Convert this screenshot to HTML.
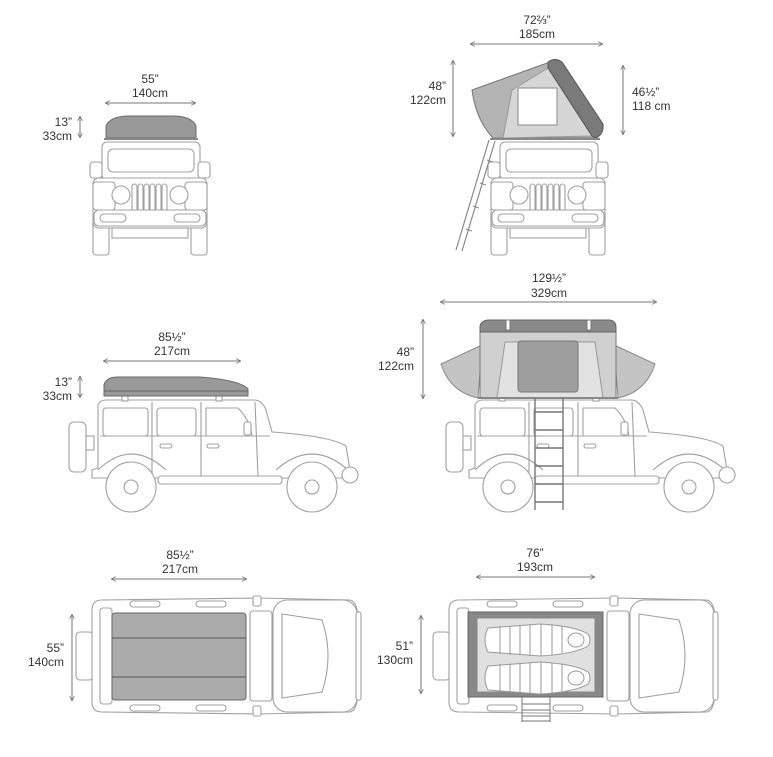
<!DOCTYPE html>
<html><head><meta charset="utf-8"><style>
html,body{margin:0;padding:0;background:#fff}
svg{display:block}
text{font-family:"Liberation Sans",sans-serif;font-size:12px;fill:#333}
</style></head><body>
<svg width="773" height="757" viewBox="0 0 773 757" xmlns="http://www.w3.org/2000/svg">
<defs>
<marker id="ar" viewBox="0 0 6 6" refX="5" refY="3" markerWidth="5" markerHeight="5" orient="auto-start-reverse"><path d="M0,0 L6,3 L0,6" fill="none" stroke="#777" stroke-width="1"/></marker>
<g id="front" fill="#fff" stroke="#a0a0a0" stroke-width="1.1">
 <rect x="12" y="2" width="98" height="38" rx="5"/>
 <rect x="18" y="9" width="86" height="23" rx="5"/>
 <rect x="0" y="22" width="12" height="16" rx="3"/>
 <rect x="108" y="22" width="12" height="16" rx="3"/>
 <rect x="3" y="80" width="16" height="35" rx="3"/>
 <rect x="101" y="80" width="16" height="35" rx="3"/>
 <rect x="3" y="38" width="114" height="50" rx="6"/>
 <rect x="3" y="42" width="22" height="28" rx="3"/>
 <rect x="95" y="42" width="22" height="28" rx="3"/>
 <rect x="42" y="44" width="5" height="28" rx="2.5"/><rect x="48" y="44" width="5" height="28" rx="2.5"/><rect x="54" y="44" width="5" height="28" rx="2.5"/><rect x="60" y="44" width="5" height="28" rx="2.5"/><rect x="66" y="44" width="5" height="28" rx="2.5"/><rect x="72" y="44" width="5" height="28" rx="2.5"/>
 <circle cx="31" cy="55" r="9"/><circle cx="89" cy="55" r="9"/>
 <rect x="4" y="70" width="112" height="16" rx="5"/>
 <rect x="10" y="74" width="26" height="8" rx="4"/><rect x="84" y="74" width="26" height="8" rx="4"/>
 <rect x="22" y="88" width="76" height="10"/>
</g>
<g id="side" fill="#fff" stroke="#a0a0a0" stroke-width="1.1">
 <rect x="69" y="422" width="17" height="50" rx="5"/>
 <rect x="86" y="436" width="8" height="14"/>
 <path d="M92,478 L92,470 L98,468 L98,405 Q100,400 106,400 L254,400 Q262,400 266,410 L272,432 Q330,436 346,446 L350,470 L346,478 Z"/>
 <path d="M98,470 Q131,438 166,470 M276,470 Q312,438 348,470" fill="none"/>
 <rect x="103" y="408" width="45" height="28" rx="3"/>
 <rect x="157" y="408" width="39" height="28" rx="3"/>
 <path d="M206,408 L238,408 Q250,420 252,436 L206,436 Z"/>
 <path d="M152,402 L152,474 M201,402 L201,476 M255,402 L258,476 M100,436 L270,436" fill="none"/>
 <rect x="160" y="444" width="12" height="4" rx="2"/><rect x="207" y="444" width="12" height="4" rx="2"/>
 <rect x="244" y="422" width="7" height="13" rx="2"/>
 <rect x="158" y="476" width="124" height="8" rx="3"/>
 <circle cx="350" cy="475" r="8"/>
 <rect x="122" y="394" width="6" height="7"/><rect x="216" y="394" width="6" height="7"/>
 <circle cx="131" cy="487" r="25"/><circle cx="131" cy="487" r="7"/>
 <circle cx="312" cy="487" r="25"/><circle cx="312" cy="487" r="7"/>
</g>
<g id="top" fill="#fff" stroke="#a0a0a0" stroke-width="1.1">
 <rect x="76" y="632" width="17" height="48" rx="4"/>
 <path d="M92,610 Q92,600 102,600 L260,598 L350,600 Q358,602 358,620 L358,690 Q358,710 350,712 L260,714 L102,712 Q92,712 92,702 Z"/>
 <rect x="273" y="600" width="84" height="112" rx="14"/>
 <path d="M282,614 L322,620 Q334,656 322,692 L282,698 Z" fill="none"/>
 <rect x="250" y="611" width="22" height="90" rx="3"/>
 <rect x="100" y="608" width="12" height="96" rx="3"/>
 <rect x="130" y="601" width="30" height="6" rx="3"/><rect x="196" y="601" width="30" height="6" rx="3"/>
 <rect x="130" y="705" width="30" height="6" rx="3"/><rect x="196" y="705" width="30" height="6" rx="3"/>
 <rect x="253" y="596" width="8" height="10" rx="2"/><rect x="253" y="706" width="8" height="10" rx="2"/>
 <rect x="356" y="612" width="5" height="88" rx="2"/>
</g>
</defs>

<use href="#front" x="90" y="140"/>
<path d="M106,138 L106,126 Q110,116 130,116 L172,116 Q192,116 196,126 L196,138 Z" fill="#999" stroke="#6a6a6a"/>
<line x1="104" y1="139" x2="198" y2="139" stroke="#888" stroke-width="2"/>

<use href="#front" x="488" y="140"/>
<path d="M472,90 L550,62 L600,128 L595,138 L493,138 Q476,120 472,90 Z" fill="#b4b4b4" stroke="#777"/>
<path d="M503,138 L512,90 L548,68 L592,136 Z" fill="#d6d6d6" stroke="#999"/>
<path d="M548,62 Q555,57 562,62 L603,124 Q604,134 596,138 L592,136 L548,68 Z" fill="#7a7a7a" stroke="#555"/>
<rect x="518" y="88" width="39" height="37" fill="#fff" stroke="#888"/>
<line x1="490" y1="139" x2="600" y2="139" stroke="#888" stroke-width="2"/>
<path d="M489,140 L456,250 M495,141 L462,251" stroke="#888" stroke-width="1.2" fill="none"/>
<path d="M487,160 L493,162 M480,183 L486,185 M473,206 L479,208 M466,229 L472,231" stroke="#888"/>

<use href="#side" x="0" y="0"/>
<path d="M104,396 L104,385 Q106,377 118,377 L200,377 Q240,380 248,389 L248,396 Z" fill="#999" stroke="#6a6a6a"/>
<line x1="104" y1="391" x2="248" y2="391" stroke="#666"/>

<use href="#side" x="377" y="0"/>
<path d="M482,345 L441,364 Q450,392 478,398 Z" fill="#c4c4c4" stroke="#888"/>
<path d="M614,345 L655,364 Q646,392 618,398 Z" fill="#c4c4c4" stroke="#888"/>
<path d="M480,398 L480,328 Q480,320 490,320 L608,320 Q616,320 616,328 L616,398 Z" fill="#d0d0d0" stroke="#777"/>
<path d="M480,328 Q480,320 490,320 L608,320 Q616,320 616,328 L616,332 L480,332 Z" fill="#8a8a8a" stroke="#666"/>
<path d="M497,398 L505,342 L595,342 L603,398 Z" fill="#e2e2e2" stroke="#999"/>
<rect x="518" y="341" width="60" height="51" rx="3" fill="#9e9e9e" stroke="#777"/>
<rect x="506" y="320" width="4" height="10" fill="#fff" stroke="#777"/><rect x="587" y="320" width="4" height="10" fill="#fff" stroke="#777"/>
<line x1="478" y1="398" x2="618" y2="398" stroke="#888" stroke-width="2"/>
<g stroke="#777" stroke-width="1.4" fill="none">
<path d="M535,398 L535,510 M563,398 L563,510"/>
<path d="M535,412 L563,412 M535,430 L563,430 M535,448 L563,448 M535,466 L563,466 M535,484 L563,484 M535,502 L563,502"/>
</g>

<use href="#top" x="0" y="0"/>
<rect x="112" y="613" width="134" height="87" rx="3" fill="#ababab" stroke="#666"/>
<path d="M112,638 L246,638 M112,677 L246,677" stroke="#555"/>

<use href="#top" x="357" y="0"/>
<rect x="468" y="612" width="135" height="85" fill="#888" stroke="#666"/>
<rect x="477" y="618" width="118" height="74" fill="#e0e0e0" stroke="#888"/>
<g fill="#fff" stroke="#999">
<path d="M488,628 L540,624 Q575,626 588,634 Q592,640 588,646 Q575,654 540,656 L488,652 Q482,640 488,628 Z"/>
<path d="M488,666 L540,662 Q575,664 588,672 Q592,678 588,684 Q575,692 540,694 L488,690 Q482,678 488,666 Z"/>
<ellipse cx="576" cy="640" rx="8" ry="7"/><ellipse cx="576" cy="678" rx="8" ry="7"/>
<path d="M500,626 L500,654 M510,626 L510,655 M520,625 L520,655 M530,625 L530,656 M541,624 L541,656 M552,625 L552,655 M562,626 L562,653 M500,664 L500,692 M510,664 L510,693 M520,663 L520,693 M530,663 L530,694 M541,662 L541,694 M552,663 L552,693 M562,664 L562,691" fill="none"/>
</g>
<g stroke="#777" fill="none"><path d="M522,697 L522,722 M550,697 L550,722 M522,704 L550,704 M522,710 L550,710 M522,716 L550,716 M522,721 L550,721"/></g>

<g stroke="#777" stroke-width="1" marker-start="url(#ar)" marker-end="url(#ar)">
<line x1="106" y1="103" x2="195" y2="103"/>
<line x1="80" y1="117" x2="80" y2="137"/>
<line x1="471" y1="44" x2="602" y2="44"/>
<line x1="453" y1="61" x2="453" y2="136"/>
<line x1="623" y1="66" x2="623" y2="134"/>
<line x1="104" y1="361" x2="240" y2="361"/>
<line x1="80" y1="377" x2="80" y2="397"/>
<line x1="441" y1="302" x2="656" y2="302"/>
<line x1="423" y1="320" x2="423" y2="398"/>
<line x1="112" y1="579" x2="246" y2="579"/>
<line x1="72" y1="615" x2="72" y2="700"/>
<line x1="477" y1="577" x2="594" y2="577"/>
<line x1="421" y1="616" x2="421" y2="693"/>
</g>

<g>
<text x="150" y="83" text-anchor="middle">55”</text><text x="150" y="97" text-anchor="middle">140cm</text>
<text x="72" y="126" text-anchor="end">13”</text><text x="72" y="140" text-anchor="end">33cm</text>
<text x="537" y="24" text-anchor="middle">72⅔”</text><text x="537" y="38" text-anchor="middle">185cm</text>
<text x="446" y="90" text-anchor="end">48”</text><text x="446" y="104" text-anchor="end">122cm</text>
<text x="632" y="96">46½”</text><text x="632" y="110">118 cm</text>
<text x="172" y="341" text-anchor="middle">85½”</text><text x="172" y="355" text-anchor="middle">217cm</text>
<text x="72" y="386" text-anchor="end">13”</text><text x="72" y="400" text-anchor="end">33cm</text>
<text x="549" y="282" text-anchor="middle">129½”</text><text x="549" y="297" text-anchor="middle">329cm</text>
<text x="414" y="356" text-anchor="end">48”</text><text x="414" y="370" text-anchor="end">122cm</text>
<text x="180" y="559" text-anchor="middle">85½”</text><text x="180" y="573" text-anchor="middle">217cm</text>
<text x="64" y="652" text-anchor="end">55”</text><text x="64" y="666" text-anchor="end">140cm</text>
<text x="535" y="557" text-anchor="middle">76”</text><text x="535" y="571" text-anchor="middle">193cm</text>
<text x="413" y="650" text-anchor="end">51”</text><text x="413" y="664" text-anchor="end">130cm</text>
</g>
</svg>
</body></html>
